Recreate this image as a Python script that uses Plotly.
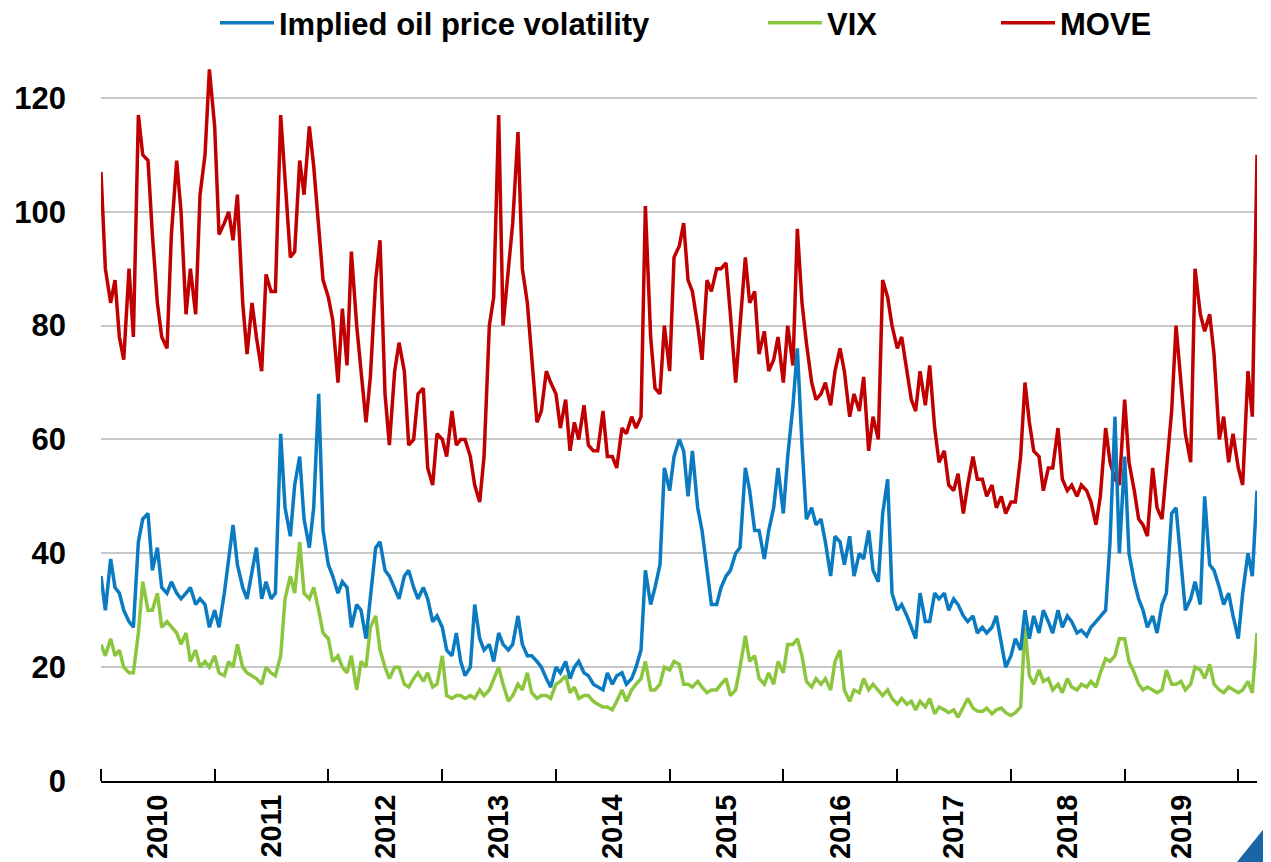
import pandas as pd
import plotly.graph_objects as go

# semi-monthly observations starting 2010-01-01
move = [
    107, 90, 84, 88, 78, 74, 90, 78, 117, 110,
    109, 96, 84, 78, 76, 96, 109, 100, 82, 90,
    82, 103, 110, 125, 115, 96, 98, 100, 95, 103,
    84, 75, 84, 78, 72, 89, 86, 86, 117, 105,
    92, 93, 109, 103, 115, 108, 98, 88, 85, 81,
    70, 83, 73, 93, 80, 72, 63, 71, 88, 95,
    68, 59, 72,
    77, 72, 59, 60, 68, 69, 55, 52, 61, 60,
    57, 65, 59, 60, 60, 57, 52, 49, 57, 80,
    85, 117, 80, 90, 98, 114, 90, 84, 74, 63,
    65, 72, 70, 68, 62, 67, 58, 63, 60, 66,
    59, 58, 58, 65, 57, 57, 55, 62, 61, 64,
    62, 64, 101, 78, 69, 68, 80, 72, 92, 94,
    98,
    88, 86, 80, 74, 88, 86, 90, 90, 91, 82,
    70, 80, 92, 84, 86, 75, 79, 72, 74, 78,
    70, 80, 73, 97, 84, 77, 70, 67, 68, 70,
    66, 72, 76, 72, 64, 68, 65, 71, 58, 64,
    60, 88, 85, 80, 76, 78, 72, 67, 65, 72,
    66, 73, 62, 56, 58, 52, 51, 54, 47, 52,
    57,
    53, 53, 50, 52, 48, 50, 47, 49, 49, 57,
    70, 63, 58, 57, 51, 55, 55, 62, 53, 51,
    52, 50, 52, 51, 49, 45, 50, 62, 56, 53,
    52, 67, 56, 51, 46, 45, 43, 55, 48, 46,
    55, 65, 80, 70, 61, 56, 90, 82, 79, 82,
    75, 60, 64, 56, 61, 55, 52, 72, 64, 110,
]

oil_vol = [
    36, 30, 39, 34, 33, 30, 28, 27, 42, 46,
    47, 37, 41, 34, 33, 35, 33, 32, 33, 34,
    31, 32, 31, 27, 30, 27, 33, 39, 45, 38,
    34, 32, 37, 41, 32, 35, 32, 33, 61, 48,
    43, 52, 57, 46, 41, 48, 68, 44, 38, 36,
    33, 35, 34, 27, 31, 30, 25, 32, 41, 42,
    37, 36, 34,
    32, 36, 37, 34, 32, 34, 32, 28, 29, 27,
    23, 22, 26, 21, 18.5, 20, 31, 25, 23, 24,
    21, 26, 24, 23, 24, 29, 24, 22, 22, 21,
    20, 18, 16.5, 20, 19, 21, 18, 20, 21, 19,
    18.5, 17, 16.5, 16, 19, 17, 18.5, 19, 17, 18,
    20, 23, 37, 31, 34, 38, 55, 51, 57, 60,
    58,
    50, 58, 48, 44, 37, 31, 31, 34, 36, 37,
    40, 41, 55, 51, 44, 44, 39, 44, 48, 55,
    47, 57, 66, 76, 59, 46, 48, 45, 46, 42,
    36, 43, 42, 38, 43, 36, 40, 39, 44, 37,
    35, 47, 53, 33, 30, 31, 29, 27, 25, 33,
    28, 28, 33, 32, 33, 30, 32, 31, 29, 28,
    29,
    26, 27, 26, 27, 29, 24, 20, 22, 25, 23,
    30, 25, 29, 26, 30, 28, 26, 30, 27, 29,
    28, 26, 26.5, 25.5, 27, 28, 29, 30, 42, 64,
    40, 57, 40, 35, 32, 30, 27, 29, 26, 31,
    33, 47, 48, 38, 30, 32, 35, 31, 50, 38,
    37, 34, 31, 33, 29, 25, 33, 40, 36, 51,
]

vix = [
    24, 22, 25, 22, 23, 20, 19, 19, 26, 35,
    30, 30, 33, 27, 28, 27, 26, 24, 26, 21,
    23, 20, 21, 20, 22, 19, 18.5, 21, 20, 24,
    20, 19, 18.5, 18, 17, 20, 19, 18.5, 22, 32,
    36, 33, 42, 33, 32, 34, 30, 26, 25, 21,
    22, 20, 19, 22, 16, 21, 20, 27, 29, 23,
    20, 18, 20,
    20, 17, 16.5, 18, 19, 17.5, 19, 16.5, 17, 22,
    15, 14.5, 15, 15, 14.5, 15, 14.5, 16, 15, 16,
    18, 20, 17, 14, 15, 17, 16, 19, 15.5, 14.5,
    15, 15, 14.5, 17, 17.5, 18.5, 15.5, 16.5, 14.5, 15,
    15, 14, 13.5, 13, 13, 12.5, 14, 16, 14, 16,
    17, 18, 21, 16, 16, 17, 20, 19.5, 21, 20.5,
    17,
    17, 16.5, 17.5, 16.5, 15.5, 16, 16, 17, 18, 15,
    16, 20, 25.5, 21, 22, 18, 17, 19, 17, 21,
    19, 24, 24, 25, 22, 17.5, 16.5, 18, 17, 18,
    16, 21, 23, 16, 14, 16, 15.5, 18, 16, 17,
    16, 15, 16, 14.5, 13.5, 14.5, 13.5, 14, 12.5, 14,
    13, 14.5, 11.8, 13, 12.5, 12, 12.5, 11.2, 13, 14.5,
    12.8,
    12.3, 12.2, 12.8, 11.8, 12.5, 12.8, 12, 11.5, 12, 13,
    27, 18.5, 17, 19.5, 17.5, 18, 16, 17, 15.5, 18,
    16.5, 16, 17, 16.5, 17.5, 16.5, 19, 21.5, 21, 22,
    25, 25, 21, 19, 17, 16, 16.5, 16, 15.5, 16,
    19.5, 17, 17, 17.5, 16, 17, 20, 19.5, 18, 20.5,
    17, 16, 15.5, 16.5, 16, 15.5, 16, 17.5, 15.5, 26,
]

year_labels = ["2010", "2011", "2012", "2013", "2014",
               "2015", "2016", "2017", "2018", "2019"]
year_bounds = [f"{y}-01-01" for y in range(2010, 2021)]
y_ticks = [0, 20, 40, 60, 80, 100, 120]

colors = {"Implied oil price volatility": "#0A7BC1", "VIX": "#8CC63F", "MOVE": "#C00000"}


def dates_for(values):
    return pd.date_range("2010-01-01", periods=len(values), freq="SMS")


FONT = "Liberation Sans, Arial, sans-serif"
LW = 3.5

fig = go.Figure()
fig.add_trace(go.Scatter(x=dates_for(move), y=move, mode="lines", name="MOVE",
                         line=dict(color=colors["MOVE"], width=LW), legend="legend3"))
fig.add_trace(go.Scatter(x=dates_for(vix), y=vix, mode="lines", name="VIX",
                         line=dict(color=colors["VIX"], width=LW), legend="legend2"))
fig.add_trace(go.Scatter(x=dates_for(oil_vol), y=oil_vol, mode="lines",
                         name="Implied oil price volatility",
                         line=dict(color=colors["Implied oil price volatility"], width=LW),
                         legend="legend"))

mid_years = [pd.Timestamp(f"{y}-07-02") for y in year_labels]

legend_font = dict(family=FONT, size=31, color="black", weight="bold")
leg_common = dict(orientation="h", xref="container", yref="container",
                  yanchor="middle", y=0.9825, xanchor="left", font=legend_font,
                  bgcolor="rgba(0,0,0,0)", itemwidth=54, tracegroupgap=0,
                  visible=True)

fig.update_layout(
    width=1271, height=862,
    showlegend=True,
    margin=dict(l=93, r=22, t=33, b=89, autoexpand=False),
    paper_bgcolor="white", plot_bgcolor="white",
    legend=dict(x=207 / 1271, **leg_common),
    legend2=dict(x=755 / 1271, **leg_common),
    legend3=dict(x=988 / 1271, **leg_common),
    xaxis=dict(
        range=["2010-01-01", "2020-03-01"], automargin=False,
        tickmode="array", tickvals=mid_years, ticktext=year_labels,
        tickangle=-90, ticks="", showgrid=False, zeroline=False,
        showline=True, linecolor="black", linewidth=2,
        ticklabelstandoff=0,
        tickfont=dict(family=FONT, size=29, color="black", weight="bold"),
        minor=dict(tickmode="array", tickvals=year_bounds, ticks="inside",
                   ticklen=12, tickwidth=2, tickcolor="black", showgrid=False),
    ),
    yaxis=dict(
        range=[0, 130], tickmode="array", tickvals=y_ticks, automargin=False,
        showgrid=True, gridcolor="#C8C8C8", gridwidth=2,
        zeroline=False, showline=False, ticks="",
        ticklabelstandoff=34,
        tickfont=dict(family=FONT, size=31, color="black", weight="bold"),
    ),
    shapes=[dict(type="path", xref="paper", yref="paper",
                 path="M 0.9715,-0.1311 L 1.0268,-0.0243 L 1.0268,-0.1311 Z",
                 fillcolor="#1A65A6", line=dict(width=0), layer="above")],
)

fig.write_html("out.html")
